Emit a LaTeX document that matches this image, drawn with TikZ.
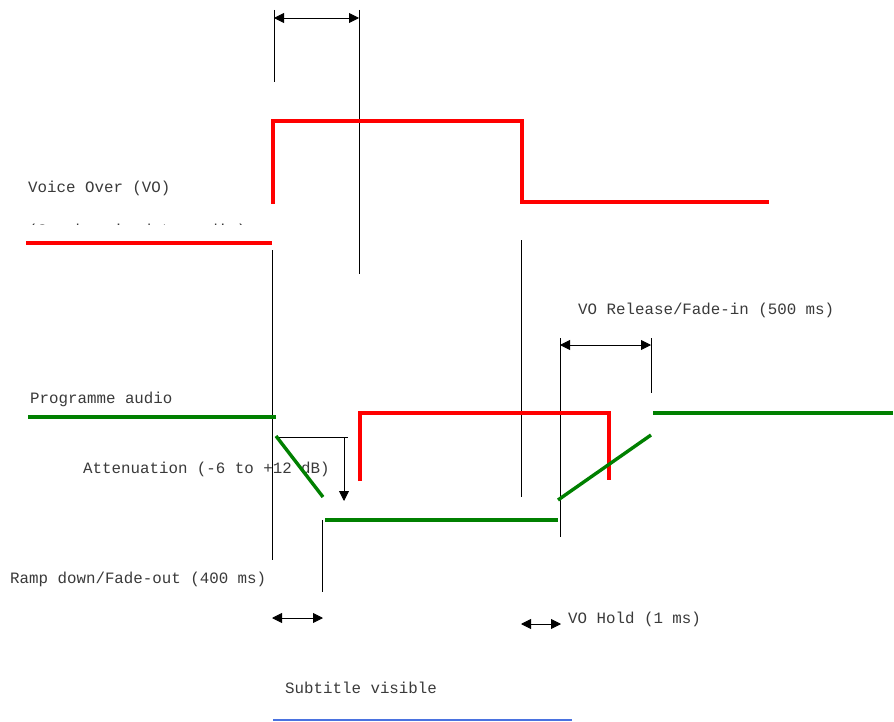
\documentclass[tikz,border=0pt]{standalone}
\usepackage{fontspec}
\setmonofont{Liberation Mono}
\usetikzlibrary{arrows.meta}
\definecolor{txtgray}{HTML}{3A3A3A}
\definecolor{vored}{HTML}{FF0000}
\definecolor{pagreen}{HTML}{008000}
\definecolor{subblue}{HTML}{4A72E0}
\begin{document}
\begin{tikzpicture}[x=1pt,y=-1pt,
  lbl/.style={anchor=base west,inner sep=0pt,text=txtgray,font=\ttfamily\fontsize{15.8}{18}\selectfont},
  vo/.style={draw=vored,line width=3.2pt},
  pa/.style={draw=pagreen,line width=3.4pt},
  guide/.style={draw=black,line width=0.9pt},
  dim/.style={draw=black,line width=0.9pt,{Triangle[length=10pt,width=10pt]}-{Triangle[length=10pt,width=10pt]}},
  dimone/.style={draw=black,line width=0.9pt,-{Triangle[length=10pt,width=10pt]}}]
\useasboundingbox (0,0) rectangle (894,722);
\fill[white] (0,0) rectangle (894,722);

% coordinates
\coordinate (g1t) at (274,10);   \coordinate (g1b) at (274,82);
\coordinate (g2t) at (359,10);   \coordinate (g2b) at (359,274);
\coordinate (d1a) at (274,18);   \coordinate (d1b) at (359,18);

\coordinate (r1) at (26,243);  \coordinate (r2) at (272,243);
\coordinate (r3) at (273,204); \coordinate (r4) at (273,121);
\coordinate (r5) at (522,121); \coordinate (r6) at (522,202);
\coordinate (r7) at (769,202);

\coordinate (g3t) at (272,250); \coordinate (g3b) at (272,560);
\coordinate (g4t) at (521,240); \coordinate (g4b) at (521,497);

\coordinate (p1) at (28,417);  \coordinate (p2) at (276,417);
\coordinate (p3) at (276,436); \coordinate (p4) at (323,497);
\coordinate (p5) at (325,520); \coordinate (p6) at (558,520);
\coordinate (p7) at (558,500); \coordinate (p8) at (651,435);
\coordinate (p9) at (653,413); \coordinate (p10) at (893,413);

\coordinate (s1) at (360,481); \coordinate (s2) at (360,413);
\coordinate (s3) at (609,413); \coordinate (s4) at (609,480);

\coordinate (a1) at (276,437); \coordinate (a2) at (348,437);
\coordinate (a3) at (344,437); \coordinate (a4) at (344,501);

\coordinate (g5t) at (322,520); \coordinate (g5b) at (322,592);
\coordinate (d2a) at (272,618); \coordinate (d2b) at (323,618);
\coordinate (d3a) at (521,624); \coordinate (d3b) at (561,624);

\coordinate (g6t) at (560,338); \coordinate (g6b) at (560,537);
\coordinate (g7t) at (651,338); \coordinate (g7b) at (651,393);
\coordinate (d4a) at (560,345); \coordinate (d4b) at (651,345);

\coordinate (b1) at (273,720); \coordinate (b2) at (572,720);

% labels
\node[lbl] (tvo) at (28,193) {Voice Over (VO)};
\begin{scope}
  \clip (0,214) rectangle (300,225);
  \node[lbl] (tvo2) at (28,236) {(Synchronised to audio)};
\end{scope}
\node[lbl] (tpa) at (30,403) {Programme audio};
\node[lbl] (tatt) at (83,473) {Attenuation (-6 to +12 dB)};
\node[lbl] (tramp) at (10,583) {Ramp down/Fade-out (400 ms)};
\node[lbl] (thold) at (568,623) {VO Hold (1 ms)};
\node[lbl] (trel) at (578,314) {VO Release/Fade-in (500 ms)};
\node[lbl] (tsub) at (285,693) {Subtitle visible};

% guides
\draw[guide] (g1t) -- (g1b);
\draw[guide] (g2t) -- (g2b);
\draw[guide] (g3t) -- (g3b);
\draw[guide] (g4t) -- (g4b);
\draw[guide] (g5t) -- (g5b);
\draw[guide] (g6t) -- (g6b);
\draw[guide] (g7t) -- (g7b);
\draw[guide] (a1) -- (a2);

% dimension arrows
\draw[dim] (d1a) -- (d1b);
\draw[dim] (d2a) -- (d2b);
\draw[dim] (d3a) -- (d3b);
\draw[dim] (d4a) -- (d4b);
\draw[dimone] (a3) -- (a4);

% VO signal
\draw[vo] (r1) -- (r2);
\draw[vo] (r3) -- (r4) -- (r5) -- (r6) -- (r7);
\draw[vo] (s1) -- (s2) -- (s3) -- (s4);

% programme audio
\draw[pa] (p1) -- (p2);
\draw[pa] (p3) -- (p4);
\draw[pa] (p5) -- (p6);
\draw[pa] (p7) -- (p8);
\draw[pa] (p9) -- (p10);

% subtitle bar
\draw[draw=subblue,line width=1.3pt] (b1) -- (b2);
\end{tikzpicture}
\end{document}
